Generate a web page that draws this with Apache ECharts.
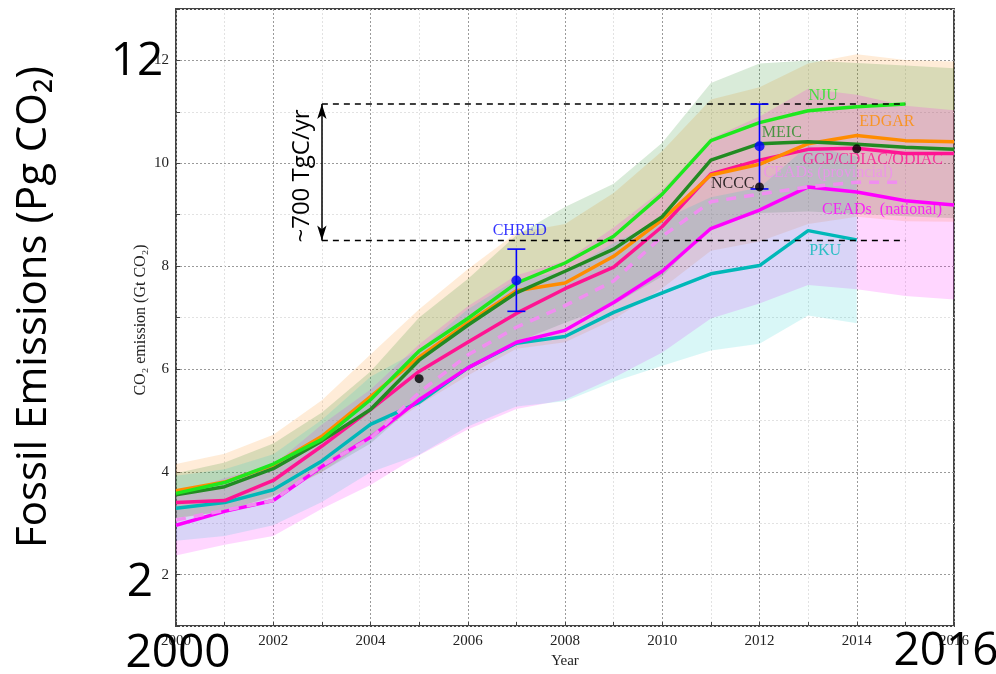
<!DOCTYPE html>
<html><head><meta charset="utf-8">
<script src="https://cdn.jsdelivr.net/npm/echarts@6/dist/echarts.min.js"></script>
<style>html,body{margin:0;padding:0;background:#fff}#c{width:996px;height:674px}</style>
</head><body><div id="c"></div>
<script>
// ---- data ----
const years = [2000,2001,2002,2003,2004,2005,2006,2007,2008,2009,2010,2011,2012,2013,2014,2015,2016];
const nju       = [3.58,3.79,4.15,4.63,5.40,6.35,6.98,7.67,8.06,8.58,9.40,10.44,10.79,11.02,11.10,11.15];
const meic      = [3.55,3.71,4.06,4.60,5.21,6.17,6.85,7.48,7.90,8.33,8.96,10.06,10.38,10.42,10.37,10.31,10.27];
const edgar     = [3.63,3.80,4.13,4.69,5.46,6.23,6.90,7.52,7.67,8.19,8.90,9.77,9.98,10.38,10.54,10.44,10.42];
const gcp       = [3.40,3.44,3.83,4.50,5.21,5.95,6.52,7.08,7.56,7.98,8.77,9.79,10.06,10.27,10.29,10.19,10.19];
const ceadsProv = [3.06,3.25,3.44,4.12,4.65,5.54,6.27,6.81,7.23,7.71,8.58,9.25,9.40,9.54,9.63,9.63];
const ceadsNat  = [2.96,3.23,3.44,4.10,4.67,5.40,6.02,6.52,6.75,7.29,7.90,8.73,9.09,9.54,9.44,9.27,9.19];
const pku       = [3.29,3.40,3.65,4.21,4.92,5.35,6.02,6.50,6.63,7.10,7.48,7.85,8.01,8.69,8.51];

// uncertainty bands
const edgarHi = [4.15,4.35,4.72,5.39,6.28,7.16,7.94,8.65,8.82,9.42,10.24,11.24,11.48,11.94,12.12,12.01,11.98];
const edgarLo = [3.09,3.23,3.51,3.99,4.64,5.30,5.87,6.39,6.52,6.96,7.57,8.30,8.48,8.82,8.96,8.87,8.86];
const meicHi  = [3.97,4.18,4.55,5.15,5.95,7.00,7.75,8.60,9.15,9.60,10.40,11.56,11.94,12.00,11.95,11.90,11.85];
const meicLo  = [3.10,3.23,3.53,4.00,4.55,5.38,5.97,6.52,6.90,7.25,7.80,8.75,9.03,9.06,9.02,8.97,8.93];
const natHi   = [3.55,3.88,4.13,4.92,5.60,6.48,7.22,7.82,8.10,8.75,9.48,10.48,10.91,11.45,11.33,11.12,11.03];
const natLo   = [2.37,2.58,2.75,3.28,3.74,4.32,4.82,5.22,5.40,5.83,6.32,6.98,7.27,7.63,7.55,7.42,7.35];
const pkuHi   = [3.92,4.05,4.34,5.01,5.85,6.37,7.16,7.74,7.89,8.45,8.90,9.34,9.53,10.34,10.13];
const pkuLo   = [2.66,2.75,2.96,3.41,3.99,4.33,4.88,5.27,5.37,5.75,6.06,6.36,6.49,7.04,6.89];

// other estimates: [year, low, high, central]
const errorBars = [[2007, 7.12, 8.33, 7.72], [2012, 9.50, 11.15, 10.33]];
const blackDots = [[2005, 5.81], [2012, 9.54], [2014, 10.28]];
const rangeYears = [2003, 2015];
const rangeLevels = [8.5, 11.15];

const labelNames = ['NJU','MEIC','EDGAR','GCP/CDIAC/ODIAC','CEADs (provincial)','NCCC','CEADs  (national)','PKU','CHRED'];
const labelAnchors = [[2013.31,11.31],[2012.46,10.60],[2014.62,10.81],[2014.33,10.06],[2013.41,9.81],[2011.45,9.60],[2014.52,9.10],[2013.35,8.29],[2007.07,8.69]];
const labelColors = ['#1ee81e','#228b22','#ff8c00','#ff1493','#f08ef0','#000000','#ff00ff','#00b8b8','#0000ff'];

// ---- chart ----
const pairs = arr => arr.map((v,i)=>[years[i], v]);
function band(lo, hi, color){
  return {type:'custom', silent:true, z:1, data:[[years[0], lo[0]]],
    renderItem:(params, api)=>{
      const pts=[];
      for(let i=0;i<hi.length;i++) pts.push(api.coord([years[i],hi[i]]));
      for(let i=lo.length-1;i>=0;i--) pts.push(api.coord([years[i],lo[i]]));
      return {type:'polygon', shape:{points:pts}, style:{fill:color}};
    }};
}
function line(data, color, dashed){
  return {type:'line', data:pairs(data), showSymbol:false, z:3, silent:true,
    lineStyle:{color:color, width:3.5, type: dashed ? [10,8] : 'solid'}};
}
const serif = 'Liberation Serif';
const chart = echarts.init(document.getElementById('c'));
chart.setOption({
  animation:false,
  backgroundColor:'#fff',
  grid:{left:176, top:9, right:42, bottom:39, show:true, borderColor:'#444', borderWidth:2, backgroundColor:'#fff'},
  xAxis:{type:'value', min:2000, max:2016, interval:1,
    axisLine:{show:false},
    axisTick:{show:true, inside:true, length:4, lineStyle:{color:'#444'}},
    axisLabel:{color:'#222', fontFamily:serif, fontSize:15, margin:8, formatter:v=> v%2===0 ? String(v) : ''},
    splitLine:{show:true, lineStyle:{color:['#9a9a9a','#e2e2e2'], type:[2,2], width:1}},
    name:'Year', nameLocation:'middle', nameGap:28, nameTextStyle:{color:'#222', fontFamily:serif, fontSize:15}},
  yAxis:{type:'value', min:1, max:13, interval:1,
    axisLine:{show:false},
    axisTick:{show:true, inside:true, length:4, lineStyle:{color:'#444'}},
    axisLabel:{color:'#222', fontFamily:serif, fontSize:15, margin:7, formatter:v=> v%2===0 ? String(v) : ''},
    splitLine:{show:true, lineStyle:{color:['#e2e2e2','#9a9a9a'], type:[2,2], width:1}}},
  series:[
    band(edgarLo, edgarHi, 'rgba(255,150,40,0.18)'),
    band(meicLo, meicHi, 'rgba(0,120,0,0.15)'),
    band(natLo, natHi, 'rgba(255,0,255,0.16)'),
    band(pkuLo, pkuHi, 'rgba(0,200,200,0.15)'),
    {type:'line', data:[[rangeYears[0],rangeLevels[1]],[rangeYears[1],rangeLevels[1]]], showSymbol:false, z:4, silent:true,
      lineStyle:{color:'#000', width:1.5, type:[6,5]},
      markLine:{silent:true, symbol:['arrow','arrow'], symbolSize:[7,15], label:{show:false},
        lineStyle:{color:'#000', width:1.5, type:'solid'},
        data:[[{coord:[rangeYears[0],rangeLevels[0]]},{coord:[rangeYears[0],rangeLevels[1]]}]]}},
    {type:'line', data:[[rangeYears[0],rangeLevels[0]],[rangeYears[1],rangeLevels[0]]], showSymbol:false, z:4, silent:true,
      lineStyle:{color:'#000', width:1.5, type:[6,5]}},
    line(pku, '#00b8b8'),
    line(ceadsNat, '#ff00ff'),
    line(ceadsProv, '#f08ef0', true),
    line(gcp, '#ff1493'),
    line(edgar, '#ff8c00'),
    line(meic, '#228b22'),
    line(nju, '#1ee81e'),
    {type:'custom', z:5, silent:true, data:errorBars, renderItem:(p, api)=>{
      const x=api.value(0), lo=api.value(1), hi=api.value(2);
      const a=api.coord([x,lo]), b=api.coord([x,hi]);
      const st={stroke:'#0000ff', lineWidth:1.6};
      return {type:'group', children:[
        {type:'line', shape:{x1:a[0],y1:a[1],x2:b[0],y2:b[1]}, style:st},
        {type:'line', shape:{x1:a[0]-9,y1:a[1],x2:a[0]+9,y2:a[1]}, style:st},
        {type:'line', shape:{x1:b[0]-9,y1:b[1],x2:b[0]+9,y2:b[1]}, style:st}
      ]};
    }},
    {type:'scatter', z:6, silent:true, symbolSize:10, itemStyle:{color:'#0000ff'}, data:errorBars.map(d=>[d[0], d[3]])},
    {type:'scatter', z:6, silent:true, symbolSize:9, itemStyle:{color:'#000'}, data:blackDots},
    {type:'scatter', z:7, silent:true, symbolSize:0,
      data: labelNames.map((n,i)=>({name:n, value:labelAnchors[i], label:{color:labelColors[i]}})),
      label:{show:true, position:'inside', formatter:'{b}', fontFamily:serif, fontSize:16}}
  ],
  graphic:[
    {type:'text', z:100, x:302, y:176, rotation:Math.PI/2,
      style:{text:'~700 TgC/yr', fontFamily:'Open Sans', fontSize:24, fill:'#000', align:'center', verticalAlign:'middle'}},
    {type:'text', z:100, x:141, y:320, rotation:Math.PI/2,
      style:{text:'CO\u2082 emission (Gt CO\u2082)', fontFamily:serif, fontSize:16, fill:'#222', align:'center', verticalAlign:'middle'}},
    {type:'text', z:100, x:34, y:307, rotation:Math.PI/2,
      style:{text:'Fossil Emissions (Pg CO\u2082)', fontFamily:'Open Sans', fontSize:42, fill:'#000', align:'center', verticalAlign:'middle'}},
    {type:'text', z:100, x:137, y:62,
      style:{text:'12', fontFamily:'Open Sans', fontSize:46, fill:'#000', align:'center', verticalAlign:'middle'}},
    {type:'text', z:100, x:140, y:583,
      style:{text:'2', fontFamily:'Open Sans', fontSize:46, fill:'#000', align:'center', verticalAlign:'middle'}},
    {type:'text', z:100, x:178, y:654,
      style:{text:'2000', fontFamily:'Open Sans', fontSize:46, fill:'#000', align:'center', verticalAlign:'middle'}},
    {type:'text', z:100, x:946, y:652,
      style:{text:'2016', fontFamily:'Open Sans', fontSize:46, fill:'#000', align:'center', verticalAlign:'middle'}}
  ]
});
</script></body></html>
